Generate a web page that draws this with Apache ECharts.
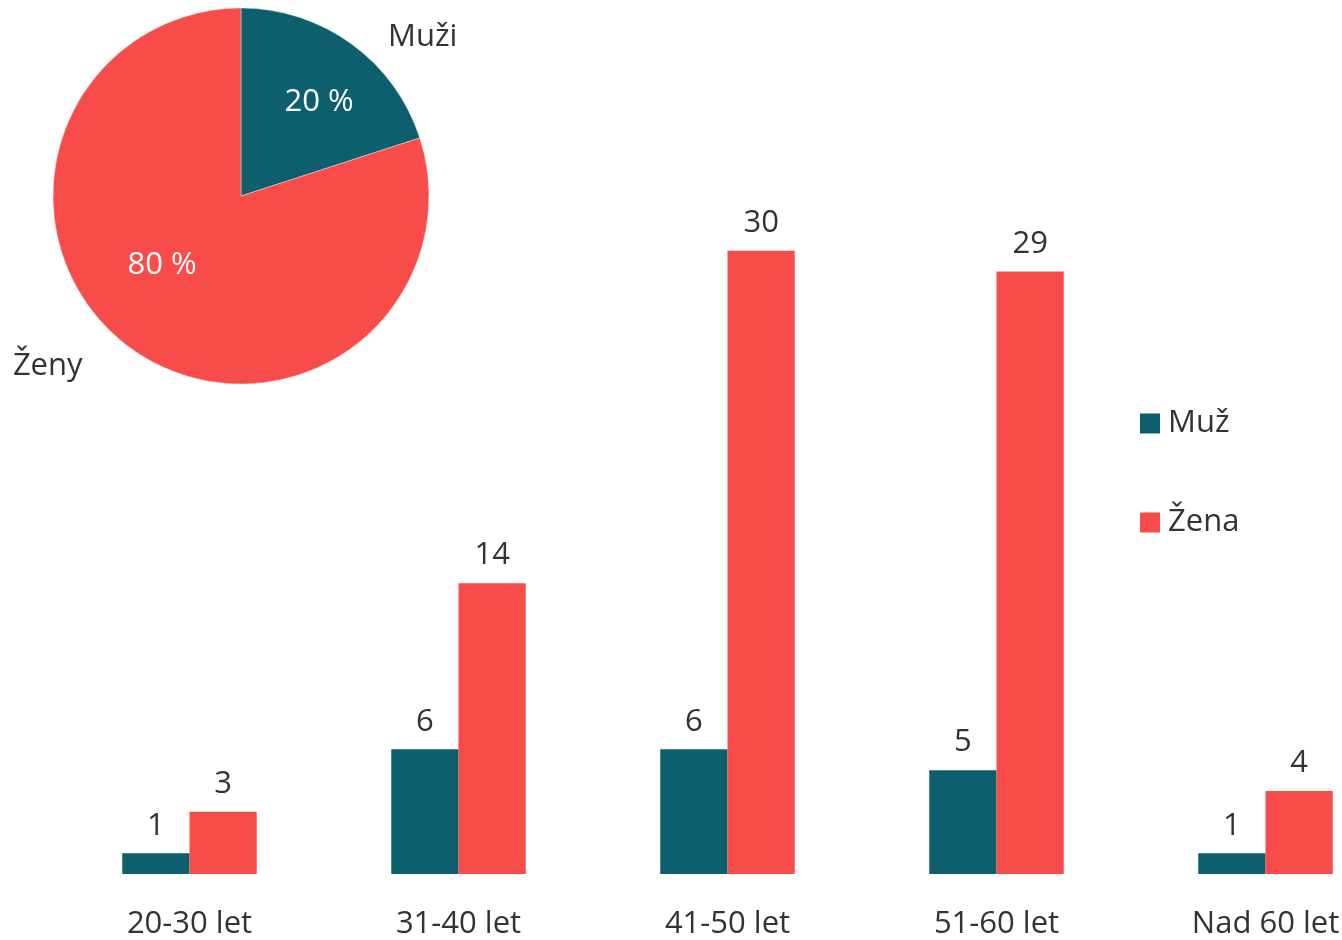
<!DOCTYPE html>
<html>
<head>
<meta charset="utf-8">
<script src="https://cdn.jsdelivr.net/npm/echarts@6/dist/echarts.min.js"></script>
<style>
  html, body { margin: 0; padding: 0; background: #fff; overflow: hidden; }
  /* plátno je širší než okno: poslední kategorie přesahuje pravý okraj */
  #chart { width: 1400px; height: 940px; }
</style>
</head>
<body>
<div id="chart"></div>
<script>
'use strict';

// data
const categories = ['20-30 let', '31-40 let', '41-50 let', '51-60 let', 'Nad 60 let'];
const muz = [1, 6, 6, 5, 1];
const zena = [3, 14, 30, 29, 4];
const pieNames = ['Muži', 'Ženy'];
const pieValues = [20, 80];

const TEAL = '#0e5f6e', RED = '#f84c4b', TEXT = '#333333';
const FONT = '"Open Sans", "Noto Sans", sans-serif';
const FS = 31;

// posun popisků uvnitř výsečí
const insideShift = [[21, -15], [-22, -9]];
// délky (neviditelných) vodicích čar pro popisky vně
const outerLines = [[8.5, 26.5], [22, 30]];

const chart = echarts.init(document.getElementById('chart'), null, { renderer: 'canvas' });

const option = {
  animation: false,
  color: [TEAL, RED],
  textStyle: { fontFamily: FONT },
  legend: {
    data: ['Muž', 'Žena'],
    orient: 'vertical',
    left: 1135,
    top: 403,
    icon: 'rect',
    itemWidth: 20,
    itemHeight: 20,
    itemGap: 68,
    textStyle: { fontSize: FS, color: TEXT, fontFamily: FONT, padding: [0, 0, 0, 3] }
  },
  grid: { left: 55, width: 1345, top: 43, bottom: 62, containLabel: false },
  xAxis: {
    type: 'category',
    data: categories,
    axisLine: { show: false },
    axisTick: { show: false },
    axisLabel: { interval: 0, fontSize: FS, color: TEXT, margin: 35, fontFamily: FONT }
  },
  yAxis: { type: 'value', min: 0, max: 40, show: false, splitLine: { show: false } },
  series: [
    {
      name: 'Muž', type: 'bar', data: muz,
      barGap: '0%', barCategoryGap: '50%',
      itemStyle: { color: TEAL },
      label: { show: true, position: 'top', distance: 12, fontSize: FS, color: TEXT, fontFamily: FONT }
    },
    {
      name: 'Žena', type: 'bar', data: zena,
      barGap: '0%', barCategoryGap: '50%',
      itemStyle: { color: RED },
      label: { show: true, position: 'top', distance: 12, fontSize: FS, color: TEXT, fontFamily: FONT }
    },
    {
      type: 'pie',
      center: [241, 196],
      radius: [0, 188],
      startAngle: 90,
      clockwise: true,
      avoidLabelOverlap: false,
      itemStyle: { borderColor: 'rgba(255,255,255,0.6)', borderWidth: 0.6 },
      label: { show: true, position: 'inside', formatter: '{d} %', fontSize: FS, color: '#fff', fontFamily: FONT },
      labelLine: { show: false },
      labelLayout: function (p) {
        const s = insideShift[p.dataIndex];
        return { dx: s[0], dy: s[1] };
      },
      emphasis: { disabled: true },
      data: pieNames.map((n, i) => ({ name: n, value: pieValues[i], itemStyle: { color: i === 0 ? TEAL : RED } }))
    },
    {
      type: 'pie',
      center: [241, 196],
      radius: [0, 188],
      startAngle: 90,
      clockwise: true,
      silent: true,
      avoidLabelOverlap: false,
      itemStyle: { color: 'transparent', borderWidth: 0 },
      label: { show: true, position: 'outside', formatter: '{b}', fontSize: FS, color: TEXT, fontFamily: FONT },
      emphasis: { disabled: true },
      data: pieNames.map((n, i) => ({
        name: n, value: pieValues[i],
        labelLine: { show: false, length: outerLines[i][0], length2: outerLines[i][1] }
      }))
    }
  ]
};

option && chart.setOption(option);
</script>
</body>
</html>
